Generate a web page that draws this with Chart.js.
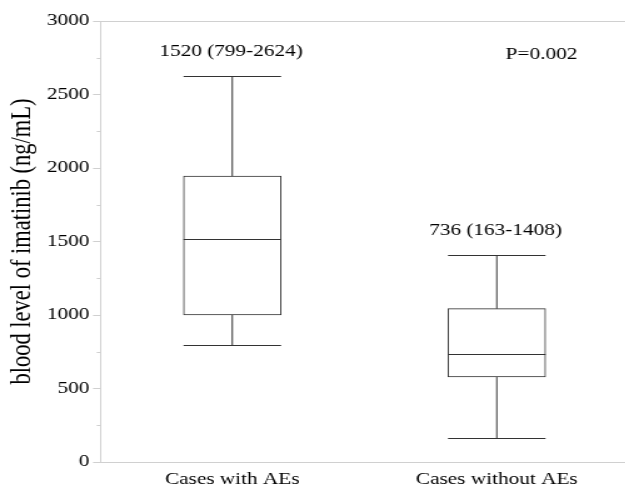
<!DOCTYPE html>
<html>
<head>
<meta charset="utf-8">
<script src="https://cdn.jsdelivr.net/npm/chart.js@4"></script>
<style>
  html, body { margin: 0; background: #fff; overflow: hidden; }
</style>
</head>
<body>
<canvas id="boxChart" width="503" height="488" style="width:628.75px;height:488px"></canvas>
<script>
// data
const categories = ['Cases with AEs', 'Cases without AEs'];
const minValues = [799, 163];
const q1Values = [1000, 578];
const medianValues = [1520, 736];
const q3Values = [1945, 1043];
const maxValues = [2624, 1408];
const yMin = 0;
const yMax = 3000;
const yStep = 500;
const yMinorStep = 250;
const pValueText = 'P=0.002';

const lineColor = '#333333';
const axisColor = '#d0d0d0';

// box + whiskers + labels
const boxPlotPlugin = {
  id: 'boxPlot',
  afterDatasetsDraw(chart) {
    const ctx = chart.ctx;
    const y = chart.scales.y;
    const area = chart.chartArea;
    const meta = chart.getDatasetMeta(0);

    ctx.save();
    ctx.strokeStyle = lineColor;
    ctx.lineWidth = 1;
    meta.data.forEach((bar, i) => {
      const half = bar.width / 2;
      const x = bar.x;
      const yMed = Math.round(y.getPixelForValue(medianValues[i])) + 0.5;
      const yLo = Math.round(y.getPixelForValue(minValues[i])) + 0.5;
      const yHi = Math.round(y.getPixelForValue(maxValues[i])) + 0.5;
      const yQ1 = y.getPixelForValue(q1Values[i]);
      const yQ3 = y.getPixelForValue(q3Values[i]);

      ctx.beginPath();
      // median
      ctx.moveTo(x - half, yMed);
      ctx.lineTo(x + half, yMed);
      // whiskers
      ctx.moveTo(x, yQ3);
      ctx.lineTo(x, yHi);
      ctx.moveTo(x, yQ1);
      ctx.lineTo(x, yLo);
      // caps
      ctx.moveTo(x - half, yHi);
      ctx.lineTo(x + half, yHi);
      ctx.moveTo(x - half, yLo);
      ctx.lineTo(x + half, yLo);
      ctx.stroke();

      ctx.fillStyle = '#000';
      ctx.font = '17px "Liberation Serif"';
      ctx.textAlign = 'center';
      ctx.textBaseline = 'middle';
      const label = medianValues[i] + ' (' + minValues[i] + '-' + maxValues[i] + ')';
      ctx.fillText(label, x - 1, yHi - 25);
    });

    // p value
    ctx.fillText(pValueText, area.right - 70, area.top + 34);

    // minor ticks on the y axis
    ctx.strokeStyle = axisColor;
    ctx.beginPath();
    for (let v = yMin + yMinorStep; v < yMax; v += yStep) {
      const py = Math.round(y.getPixelForValue(v)) + 0.5;
      ctx.moveTo(area.left - 2.7, py);
      ctx.lineTo(area.left, py);
    }
    ctx.stroke();
    ctx.restore();
  }
};

const boxData = {
  labels: categories,
  datasets: [{
    data: categories.map((c, i) => [q1Values[i], q3Values[i]]),
    backgroundColor: '#ffffff',
    borderColor: lineColor,
    borderWidth: 1,
    borderSkipped: false,
    barThickness: 78,
  }]
};

const boxConfig = {
  type: 'bar',
  data: boxData,
  options: {
    responsive: false,
    animation: false,
    layout: {
      padding: { top: 21, right: 0, bottom: 0, left: 0 }
    },
    plugins: {
      legend: { display: false },
      tooltip: { enabled: false }
    },
    scales: {
      x: {
        afterFit: (scale) => { scale.height = 26; },
        grid: { display: false, drawTicks: false, tickLength: 0 },
        border: { color: axisColor, width: 1 },
        ticks: {
          color: '#000',
          padding: 7.5,
          font: { size: 17 }
        }
      },
      y: {
        min: yMin,
        max: yMax,
        afterFit: (scale) => { scale.width = 80; },
        border: { color: axisColor, width: 1 },
        grid: {
          color: (c) => (c.tick && c.tick.value === yMax ? axisColor : 'transparent'),
          tickColor: axisColor,
          tickLength: 5.6
        },
        ticks: {
          stepSize: yStep,
          color: '#000',
          padding: 3,
          font: { size: 17 },
          callback: (v) => String(v)
        },
        title: {
          display: true,
          text: 'blood level of imatinib (ng/mL)',
          color: '#000',
          padding: { top: 4.5, bottom: 0 },
          font: { size: 22.5 }
        }
      }
    }
  },
  plugins: [boxPlotPlugin]
};

Chart.defaults.font.family = '"Liberation Serif", "Times New Roman", serif';

window.addEventListener('DOMContentLoaded', () => {
  const ctx = document.getElementById('boxChart').getContext('2d');
  new Chart(ctx, boxConfig);
});
</script>
</body>
</html>
